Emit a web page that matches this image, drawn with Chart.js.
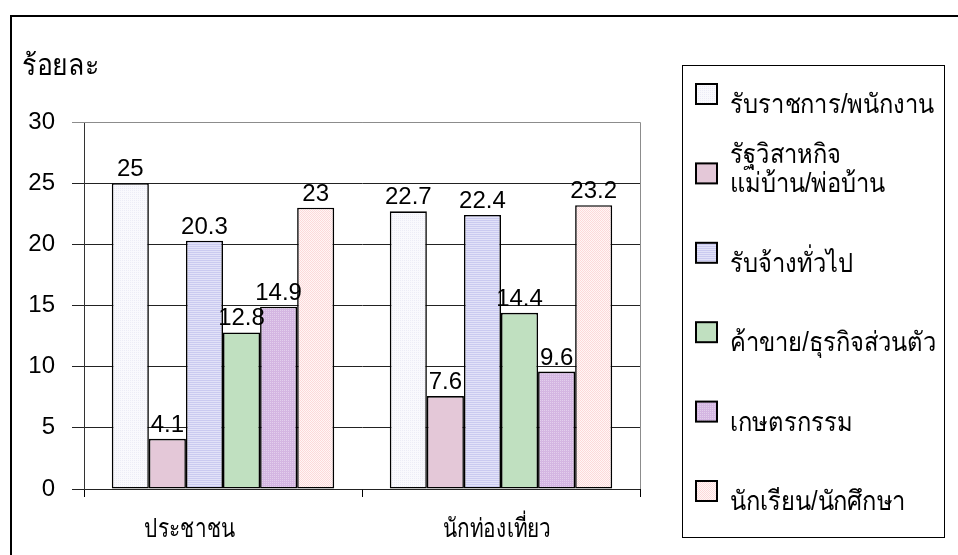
<!DOCTYPE html>
<html><head><meta charset="utf-8">
<script src="https://cdn.jsdelivr.net/npm/chart.js@4"></script>
<style>html,body{margin:0;padding:0;background:#fff;overflow:hidden}#wrap{width:958px;height:555px;position:relative}</style>
</head><body><div id="wrap"><canvas id="c" width="958" height="555"></canvas></div>
<script>
const categories = ['ประชาชน', 'นักท่องเที่ยว'];
const seriesNames = ['รับราชการ/พนักงาน\nรัฐวิสาหกิจ', 'แม่บ้าน/พ่อบ้าน', 'รับจ้างทั่วไป', 'ค้าขาย/ธุรกิจส่วนตัว', 'เกษตรกรรม', 'นักเรียน/นักศึกษา'];
const govEmployee = [25, 22.7];
const housewife = [4.1, 7.6];
const generalLabor = [20.3, 22.4];
const trade = [12.8, 14.4];
const agriculture = [14.9, 9.6];
const student = [23, 23.2];
const yTicks = [0, 5, 10, 15, 20, 25, 30];
const yAxisTitle = 'ร้อยละ';

const FONT = "'Liberation Sans', Arial, 'Noto Sans', sans-serif";
const catLabelShift = [-33, -4];

function pattern(w, h, fill) {
  const c = document.createElement('canvas');
  c.width = w; c.height = h;
  const g = c.getContext('2d');
  fill(g);
  return document.getElementById('c').getContext('2d').createPattern(c, 'repeat');
}
const p1 = pattern(2, 2, g => { g.fillStyle = '#f9f9fd'; g.fillRect(0,0,2,2); g.fillStyle = '#ececf6'; g.fillRect(0,0,1,1); });
const p2 = '#e4c8d8';
const p3 = pattern(1, 2, g => { g.fillStyle = '#cacaf0'; g.fillRect(0,0,1,1); g.fillStyle = '#e2e2f8'; g.fillRect(0,1,1,1); });
const p4 = '#c0e0c0';
const p5 = pattern(2, 2, g => { g.fillStyle = '#d4b6e2'; g.fillRect(0,0,2,2); g.fillStyle = '#e2cfec'; g.fillRect(0,0,1,1); });
const p6 = pattern(2, 2, g => { g.fillStyle = '#fff6f6'; g.fillRect(0,0,2,2); g.fillStyle = '#fcdada'; g.fillRect(0,0,1,1); g.fillRect(1,1,1,1); });

const seriesData = [govEmployee, housewife, generalLabor, trade, agriculture, student];
const fills = [p1, p2, p3, p4, p5, p6];

const datasets = seriesData.map((d, i) => ({
  label: seriesNames[i],
  data: d,
  backgroundColor: fills[i],
  borderColor: '#000',
  borderWidth: 1.6,
  borderSkipped: false,
  categoryPercentage: 0.8,
  barPercentage: 1.0
}));

function drawText(ctx, text, x, y, size, sx, align) {
  ctx.save();
  ctx.font = size + 'px ' + FONT;
  ctx.textAlign = align;
  ctx.textBaseline = 'alphabetic';
  ctx.translate(x, y);
  ctx.scale(sx, 1);
  ctx.fillText(text, 0, 0);
  ctx.restore();
}

const framePlugin = {
  id: 'frame',
  beforeDraw(chart) {
    const ctx = chart.ctx;
    ctx.save();
    ctx.fillStyle = '#fff';
    ctx.fillRect(0, 0, chart.width, chart.height);
    ctx.restore();
  },
  afterDraw(chart) {
    const ctx = chart.ctx;
    const a = chart.chartArea;
    ctx.save();
    ctx.strokeStyle = '#000';
    ctx.lineWidth = 2;
    ctx.strokeRect(11, 16, 960, 560);
    ctx.strokeStyle = '#8c8c8c';
    ctx.lineWidth = 1;
    ctx.beginPath();
    ctx.moveTo(a.left, a.top + 0.5);
    ctx.lineTo(a.right + 0.5, a.top + 0.5);
    ctx.lineTo(a.right + 0.5, a.bottom);
    ctx.stroke();
    ctx.fillStyle = '#000';
    drawText(ctx, yAxisTitle, 22, 75, 29, 0.92, 'left');
    const xs = chart.scales.x;
    categories.forEach((c, i) => {
      drawText(ctx, c, xs.getPixelForValue(i) + catLabelShift[i], 537, 26, 0.8, 'center');
    });
    const lx = 682, ly = 65, lw = 262, lh = 472;
    ctx.lineWidth = 1;
    ctx.strokeStyle = '#000';
    ctx.strokeRect(lx + 0.5, ly + 0.5, lw, lh);
    const step = (491 - 94) / (datasets.length - 1);
    datasets.forEach((ds, i) => {
      const cy = 94 + step * i;
      ctx.fillStyle = ds.backgroundColor;
      ctx.fillRect(696, cy - 10, 21, 20);
      ctx.lineWidth = 2;
      ctx.strokeStyle = '#000';
      ctx.strokeRect(696, cy - 10, 21, 20);
      ctx.fillStyle = '#000';
      const lines = ds.label.split('\n');
      lines.forEach((t, k) => {
        drawText(ctx, t, 730, cy + 19 + k * 50, 27, 0.88, 'left');
      });
    });
    ctx.restore();
  }
};

const labelPlugin = {
  id: 'vals',
  afterDatasetsDraw(chart) {
    const ctx = chart.ctx;
    ctx.save();
    ctx.fillStyle = '#000';
    ctx.font = '24px ' + FONT;
    ctx.textAlign = 'center';
    ctx.textBaseline = 'alphabetic';
    chart.data.datasets.forEach((ds, i) => {
      const meta = chart.getDatasetMeta(i);
      meta.data.forEach((bar, j) => {
        ctx.fillText(String(ds.data[j]), bar.x, bar.y - 7);
      });
    });
    ctx.restore();
  }
};

new Chart(document.getElementById('c'), {
  type: 'bar',
  data: { labels: categories, datasets },
  options: {
    responsive: false,
    animation: false,
    devicePixelRatio: 1,
    layout: { padding: { top: 122, right: 318, left: 0, bottom: 0 } },
    plugins: { legend: { display: false }, tooltip: { enabled: false } },
    scales: {
      x: {
        offset: true,
        grid: { offset: true, drawOnChartArea: false, drawTicks: true, tickLength: 8, color: '#000' },
        border: { display: false },
        ticks: { display: false },
        afterFit(s) { s.height = 66; }
      },
      y: {
        min: 0, max: 30,
        afterBuildTicks(s) { s.ticks = yTicks.map(v => ({ value: v })); },
        ticks: { color: '#000', font: { size: 24, family: FONT }, padding: 17 },
        grid: { color: ctx => (ctx.tick && ctx.tick.value === 30) ? '#8c8c8c' : '#222', tickLength: 12, drawTicks: true },
        border: { display: true, color: '#333', width: 1 },
        afterFit(s) { s.width = 84; }
      }
    }
  },
  plugins: [framePlugin, labelPlugin]
});
</script>
</body></html>
